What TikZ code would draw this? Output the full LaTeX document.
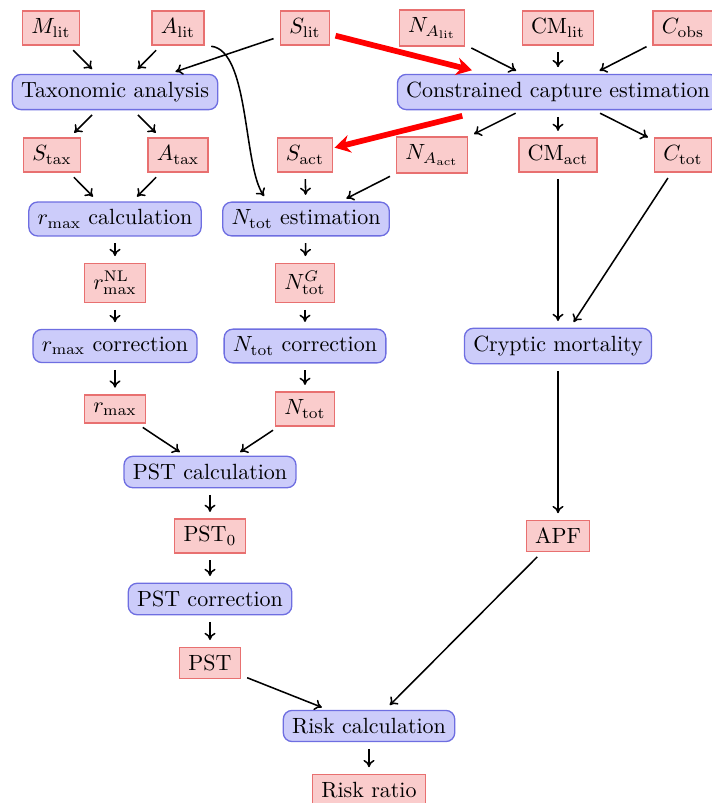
\documentclass[tikz,border=0pt]{standalone}
\usetikzlibrary{arrows.meta,calc}

\definecolor{datafill}{RGB}{250,204,204}
\definecolor{datadraw}{RGB}{232,112,112}
\definecolor{procfill}{RGB}{204,204,250}
\definecolor{procdraw}{RGB}{110,110,225}

\tikzset{
  data/.style={rectangle, draw=datadraw, fill=datafill, semithick,
               inner xsep=4pt, inner ysep=3.5pt},
  proc/.style={rectangle, rounded corners=4pt, draw=procdraw, fill=procfill,
               semithick, inner xsep=4pt, inner ysep=3.5pt},
  arr/.style={-{To[length=3.3pt,width=5pt]}, line width=0.7pt,
              shorten >=3pt, shorten <=3pt},
  redarr/.style={-{Stealth[length=7pt,width=8pt]}, red, line width=2.6pt}
}

\begin{document}
\begin{tikzpicture}[x=0.4545pt, y=-0.4545pt]
  \useasboundingbox (0,0) rectangle (712,803);
  \clip (0,0) rectangle (712,803);

  % literature inputs
  \node[data] (Mlit)  at (51,28)  {$M_{\mathrm{lit}}$};
  \node[data] (Alit)  at (178,28) {$A_{\mathrm{lit}}$};
  \node[data] (Slit)  at (305,28) {$S_{\mathrm{lit}}$};
  \node[data] (NAlit) at (432,28) {$N_{A_{\mathrm{lit}}}$};
  \node[data] (CMlit) at (558,28) {$\mathrm{CM}_{\mathrm{lit}}$};
  \node[data] (Cobs)  at (683,28) {$C_{\mathrm{obs}}$};

  % first processing stage
  \node[proc] (Tax) at (115,92) {Taxonomic analysis};
  \node[proc] (Cce) at (558,92) {Constrained capture estimation};

  % derived quantities
  \node[data] (Stax)  at (52,155)  {$S_{\mathrm{tax}}$};
  \node[data] (Atax)  at (178,155) {$A_{\mathrm{tax}}$};
  \node[data] (Sact)  at (305,155) {$S_{\mathrm{act}}$};
  \node[data] (NAact) at (432,155) {$N_{A_{\mathrm{act}}}$};
  \node[data] (CMact) at (558,155) {$\mathrm{CM}_{\mathrm{act}}$};
  \node[data] (Ctot)  at (683,155) {$C_{\mathrm{tot}}$};

  % growth rate and abundance branches
  \node[proc] (rcalc)   at (115,219) {$r_{\max}$ calculation};
  \node[proc] (Ntotest) at (306,219) {$N_{\mathrm{tot}}$ estimation};
  \node[data] (rNL)     at (115,283) {$r_{\max}^{\mathrm{NL}}$};
  \node[data] (NG)      at (305,283) {$N_{\mathrm{tot}}^{G}$};
  \node[proc] (rcorr)   at (115,346) {$r_{\max}$ correction};
  \node[proc] (Ncorr)   at (305,346) {$N_{\mathrm{tot}}$ correction};
  \node[proc] (Crypt)   at (558,346) {Cryptic mortality};
  \node[data] (rmax)    at (115,409) {$r_{\max}$};
  \node[data] (Ntot)    at (305,409) {$N_{\mathrm{tot}}$};

  % PST and risk
  \node[proc] (PSTcalc) at (210,472) {PST calculation};
  \node[data] (PST0)    at (210,536) {$\mathrm{PST}_0$};
  \node[data] (APF)     at (558,536) {APF};
  \node[proc] (PSTcorr) at (210,599) {PST correction};
  \node[data] (PST)     at (210,663) {PST};
  \node[proc] (Risk)    at (369,726) {Risk calculation};
  \node[data] (Ratio)   at (369,790) {Risk ratio};

  % connectors
  \draw[arr] (Mlit) -- (Tax);
  \draw[arr] (Alit) -- (Tax);
  \draw[arr] (Slit) -- (Tax);
  \draw[arr] (Alit.south east) .. controls +(45,5) and +(-25,-35)
             .. ($(Ntotest.north)+(-38,0)$);
  \draw[arr] (NAlit) -- (Cce);
  \draw[arr] (CMlit) -- (Cce);
  \draw[arr] (Cobs) -- (Cce);

  \draw[arr] (Tax) -- (Stax);
  \draw[arr] (Tax) -- (Atax);
  \draw[arr] (Cce) -- (NAact);
  \draw[arr] (Cce) -- (CMact);
  \draw[arr] (Cce) -- (Ctot);

  \draw[arr] (Stax) -- (rcalc);
  \draw[arr] (Atax) -- (rcalc);
  \draw[arr] (Sact) -- (Ntotest);
  \draw[arr] (NAact) -- (Ntotest);

  \draw[arr] (rcalc) -- (rNL);
  \draw[arr] (rNL) -- (rcorr);
  \draw[arr] (rcorr) -- (rmax);
  \draw[arr] (Ntotest) -- (NG);
  \draw[arr] (NG) -- (Ncorr);
  \draw[arr] (Ncorr) -- (Ntot);

  \draw[arr] (CMact) -- (Crypt);
  \draw[arr] (Ctot) -- (Crypt);
  \draw[arr] (Crypt) -- (APF);

  \draw[arr] (rmax) -- (PSTcalc);
  \draw[arr] (Ntot) -- (PSTcalc);
  \draw[arr] (PSTcalc) -- (PST0);
  \draw[arr] (PST0) -- (PSTcorr);
  \draw[arr] (PSTcorr) -- (PST);
  \draw[arr] (PST) -- (Risk);
  \draw[arr] (APF) -- (Risk);
  \draw[arr] (Risk) -- (Ratio);

  % highlighted species flow
  \draw[redarr, shorten <=2.5pt, shorten >=6.5pt] (Slit) -- (Cce);
  \draw[redarr, shorten <=10.5pt, shorten >=0.5pt] (Cce) -- (Sact);
\end{tikzpicture}
\end{document}
